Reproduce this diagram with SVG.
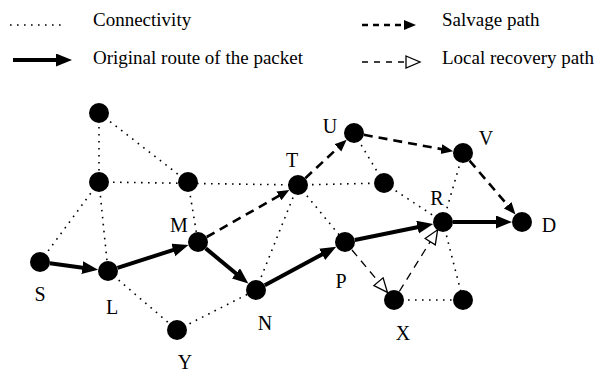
<svg xmlns="http://www.w3.org/2000/svg" width="600" height="373" viewBox="0 0 600 373">
<style>
.bg{fill:#fff}
.node{fill:#000}
.lbl{font-family:"Liberation Serif","Times New Roman",serif;font-size:20px;fill:#000;text-anchor:middle}
.leg{font-family:"Liberation Serif","Times New Roman",serif;font-size:19px;fill:#000}
.conn{stroke:#000;stroke-width:1.6;stroke-dasharray:1.6 5.4;fill:none}
.route{stroke:#000;stroke-width:4;fill:none;marker-end:url(#solidHead)}
.salv{stroke:#000;stroke-width:2.6;stroke-dasharray:9 6;fill:none;marker-end:url(#salvHead)}
.local{stroke:#000;stroke-width:1.3;stroke-dasharray:8 6;fill:none;marker-end:url(#openHead)}
</style>
<defs>
<marker id="solidHead" markerUnits="userSpaceOnUse" markerWidth="18" markerHeight="14" refX="6" refY="6.5" orient="auto">
<path d="M0,0 L16,6.5 L0,13 Z" fill="#000"/>
</marker>
<marker id="salvHead" markerUnits="userSpaceOnUse" markerWidth="14" markerHeight="11" refX="4" refY="5" orient="auto">
<path d="M0,0 L12,5 L0,10 Z" fill="#000"/>
</marker>
<marker id="openHead" markerUnits="userSpaceOnUse" markerWidth="17" markerHeight="15" refX="1" refY="7" orient="auto">
<path d="M1,1 L15,7 L1,13 Z" fill="#fff" stroke="#000" stroke-width="1.3"/>
</marker>
</defs>
<rect class="bg" x="0" y="0" width="600" height="373"/>

<g id="legend">
<line class="conn" x1="10" y1="25" x2="64" y2="25"/>
<text class="leg" x="93" y="26">Connectivity</text>
<line class="route" x1="13" y1="60" x2="62" y2="60"/>
<text class="leg" x="93" y="64">Original route of the packet</text>
<line class="salv" x1="362" y1="25" x2="408" y2="25" style="stroke-dasharray:6 5"/>
<text class="leg" x="442" y="26">Salvage path</text>
<line class="local" x1="362" y1="62" x2="406" y2="62" style="stroke-dasharray:6 6"/>
<text class="leg" x="442" y="64">Local recovery path</text>
</g>

<g id="connectors">
<line class="conn" x1="99" y1="113" x2="99" y2="182"/>
<line class="conn" x1="99" y1="113" x2="188" y2="182"/>
<line class="conn" x1="99" y1="182" x2="298" y2="185"/>
<line class="conn" x1="99" y1="182" x2="40" y2="262"/>
<line class="conn" x1="99" y1="182" x2="108" y2="271"/>
<line class="conn" x1="188" y1="182" x2="198" y2="242"/>
<line class="conn" x1="108" y1="271" x2="177" y2="330"/>
<line class="conn" x1="177" y1="330" x2="256" y2="290"/>
<line class="conn" x1="256" y1="290" x2="298" y2="185"/>
<line class="conn" x1="298" y1="185" x2="345" y2="242"/>
<line class="conn" x1="298" y1="185" x2="384" y2="183"/>
<line class="conn" x1="354" y1="133" x2="384" y2="183"/>
<line class="conn" x1="384" y1="183" x2="443" y2="222"/>
<line class="conn" x1="463" y1="153" x2="443" y2="222"/>
<line class="conn" x1="443" y1="222" x2="463" y2="300"/>
<line class="conn" x1="394" y1="300" x2="463" y2="300"/>

<line class="route" x1="49.9" y1="263.3" x2="88.2" y2="268.4"/>
<line class="route" x1="117.5" y1="267.9" x2="179" y2="248.1"/>
<line class="route" x1="205.7" y1="248.4" x2="240.6" y2="277.2"/>
<line class="route" x1="264.8" y1="285.3" x2="327.4" y2="251.5"/>
<line class="route" x1="354.8" y1="240" x2="423.4" y2="226"/>
<line class="route" x1="453" y1="222" x2="502" y2="222"/>

<line class="salv" x1="206.7" y1="237" x2="282.4" y2="193.9"/>
<line class="salv" x1="305.3" y1="178.2" x2="340.8" y2="145.2"/>
<line class="salv" x1="363.8" y1="134.8" x2="445.3" y2="149.8"/>
<line class="salv" x1="469.5" y1="160.6" x2="510.3" y2="208.3"/>

<line class="local" x1="352" y1="250" x2="378.5" y2="281.7"/>
<line class="local" x1="399.3" y1="291.5" x2="430.2" y2="241.7"/>
</g>

<g id="n_top"><circle class="node" cx="99" cy="113" r="10"/></g>
<g id="n_b"><circle class="node" cx="99" cy="182" r="10"/></g>
<g id="n_c"><circle class="node" cx="188" cy="182" r="10"/></g>
<g id="S"><circle class="node" cx="40" cy="262" r="10"/><text class="lbl" x="40" y="301">S</text></g>
<g id="L"><circle class="node" cx="108" cy="271" r="10"/><text class="lbl" x="112" y="314">L</text></g>
<g id="M"><circle class="node" cx="198" cy="242" r="10"/><text class="lbl" x="179" y="232">M</text></g>
<g id="N"><circle class="node" cx="256" cy="290" r="10"/><text class="lbl" x="265" y="330">N</text></g>
<g id="Y"><circle class="node" cx="177" cy="330" r="10"/><text class="lbl" x="185" y="369">Y</text></g>
<g id="T"><circle class="node" cx="298" cy="185" r="10"/><text class="lbl" x="292" y="167">T</text></g>
<g id="U"><circle class="node" cx="354" cy="133" r="10"/><text class="lbl" x="330" y="133">U</text></g>
<g id="n_e"><circle class="node" cx="384" cy="183" r="10"/></g>
<g id="V"><circle class="node" cx="463" cy="153" r="10"/><text class="lbl" x="486" y="145">V</text></g>
<g id="R"><circle class="node" cx="443" cy="222" r="10"/><text class="lbl" x="437" y="205">R</text></g>
<g id="D"><circle class="node" cx="522" cy="222" r="10"/><text class="lbl" x="549" y="232">D</text></g>
<g id="P"><circle class="node" cx="345" cy="242" r="10"/><text class="lbl" x="341" y="288">P</text></g>
<g id="X"><circle class="node" cx="394" cy="300" r="10"/><text class="lbl" x="403" y="340">X</text></g>
<g id="n_z"><circle class="node" cx="463" cy="300" r="10"/></g>
</svg>
